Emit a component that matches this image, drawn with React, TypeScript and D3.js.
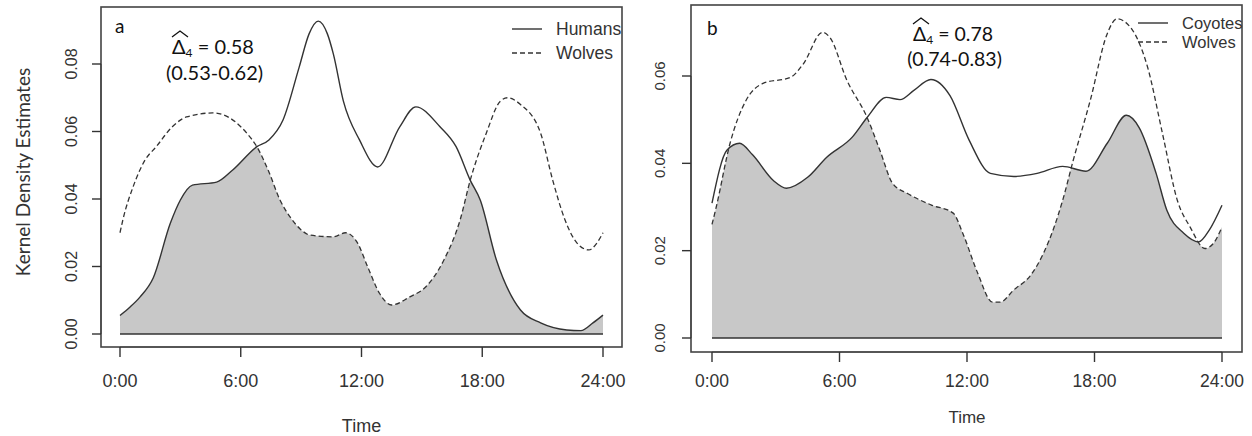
import React from "react";
import * as d3 from "d3";

// ---------- data ----------
const TIME_TICKS = [0, 6, 12, 18, 24];
const TIME_LABELS = ["0:00", "6:00", "12:00", "18:00", "24:00"];
const A_Y_TICKS = [0, 0.02, 0.04, 0.06, 0.08];
const B_Y_TICKS = [0, 0.02, 0.04, 0.06];

// Panel a – Humans (solid)
const A_HUMANS_H = [0, 0.5, 1, 1.65, 2.5, 3.0, 3.6, 4.8, 5.6, 6.8, 7.4, 8.1, 8.9, 9.4, 9.85, 10.3, 10.6, 11.1, 11.9, 12.8, 13.9, 14.7, 15.9, 16.7, 17.4, 17.9, 18.7, 19.9, 20.9, 22.2, 22.9, 23.5, 24];
const A_HUMANS_V = [0.0055, 0.008, 0.011, 0.0166, 0.0328, 0.0397, 0.0441, 0.045, 0.0486, 0.0555, 0.0575, 0.0634, 0.079, 0.089, 0.0927, 0.089, 0.083, 0.069, 0.0575, 0.0495, 0.0614, 0.0673, 0.0614, 0.0555, 0.0456, 0.0397, 0.022, 0.0071, 0.0033, 0.0012, 0.001, 0.0033, 0.0056];
// Panel a – Wolves (dashed)
const A_WOLVES_H = [0, 0.15, 0.65, 1.25, 1.8, 2.6, 3.3, 4.6, 5.1, 6.3, 6.8, 7.4, 7.95, 8.45, 8.94, 9.44, 10.6, 11.2, 11.8, 12.3, 12.9, 13.5, 14.4, 15.2, 16.1, 16.9, 17.4, 18.2, 18.9, 19.25, 19.9, 20.9, 21.5, 22.1, 22.7, 23.3, 23.7, 24];
const A_WOLVES_V = [0.030, 0.034, 0.0436, 0.0516, 0.0555, 0.0614, 0.0643, 0.0655, 0.065, 0.0595, 0.0555, 0.048, 0.0397, 0.0347, 0.0312, 0.0293, 0.0288, 0.030, 0.027, 0.020, 0.012, 0.0086, 0.011, 0.014, 0.022, 0.0338, 0.0455, 0.0595, 0.069, 0.070, 0.068, 0.0595, 0.0456, 0.034, 0.027, 0.0249, 0.027, 0.030];

// Panel b – Coyotes (solid)
const B_COYOTES_H = [0, 0.7, 1.3, 1.9, 2.9, 3.5, 4.5, 5.4, 6.6, 7.3, 8.2, 8.85, 9.5, 10.3, 11.2, 12.1, 13.1, 14.2, 15.3, 16.5, 17.6, 18.6, 19.5, 20.1, 20.9, 21.4, 22.2, 22.9, 23.4, 24];
const B_COYOTES_V = [0.0309, 0.043, 0.0446, 0.042, 0.036, 0.0343, 0.0368, 0.0414, 0.046, 0.0505, 0.0551, 0.0546, 0.0567, 0.0592, 0.0555, 0.0453, 0.0377, 0.037, 0.0377, 0.0393, 0.0382, 0.0446, 0.051, 0.0482, 0.0377, 0.0293, 0.024, 0.022, 0.0247, 0.0304];
// Panel b – Wolves (dashed)
const B_WOLVES_H = [0, 0.2, 0.85, 1.6, 2.4, 3.7, 4.3, 5.2, 5.55, 6.35, 7.3, 7.9, 8.5, 9.2, 10.3, 11.35, 11.8, 12.5, 13.2, 13.55, 14.2, 15.0, 15.6, 16.1, 16.5, 17.0, 17.8, 18.6, 19.05, 19.7, 20.5, 21.2, 21.9, 22.5, 23.2, 23.6, 24];
const B_WOLVES_V = [0.026, 0.030, 0.0446, 0.0544, 0.0583, 0.0597, 0.0628, 0.070, 0.0688, 0.059, 0.0505, 0.043, 0.0354, 0.0331, 0.0305, 0.0286, 0.024, 0.0149, 0.0082, 0.0082, 0.011, 0.0144, 0.0194, 0.0254, 0.0315, 0.0407, 0.0544, 0.0697, 0.0731, 0.0711, 0.062, 0.0468, 0.0315, 0.0254, 0.0205, 0.0217, 0.0254];

const A_LEGEND = ["Humans", "Wolves"];
const B_LEGEND = ["Coyotes", "Wolves"];
const A_STAT = ["0.58", "(0.53-0.62)"];
const B_STAT = ["0.78", "(0.74-0.83)"];

type Pt = [number, number];
const zip = (h: number[], v: number[]): Pt[] => h.map((x, i) => [x, v[i]]);

const AXIS_FONT = "'Liberation Sans', Arial, sans-serif";
const NOTE_FONT = "Lato, 'Open Sans', sans-serif";
const INK = "#333";

interface PanelProps {
  id: string;
  letter: string;
  box: { x0: number; x1: number; y0: number; y1: number };
  xRange: [number, number];
  yDomainMax: number;
  yRange: [number, number];
  yTicks: number[];
  solid: Pt[];
  dashed: Pt[];
  legend: string[];
  legendPos: { x: number; y: number; gap: number; size: number };
  stat: string[];
  statPos: { x: number; y: number; y2: number; cx2: number; size: number };
  letterPos: { x: number; y: number };
  tickFont: number;
  yTickFont: number;
  yLabelX: number;
  timeY: number;
  xTickY: number;
  timeFont: number;
}

function Panel(p: PanelProps) {
  const x = d3.scaleLinear().domain([0, 24]).range(p.xRange);
  const y = d3.scaleLinear().domain([0, p.yDomainMax]).range(p.yRange);
  const line = d3
    .line<Pt>()
    .x((d) => x(d[0]))
    .y((d) => y(d[1]))
    .curve(d3.curveMonotoneX);
  const area = d3
    .area<Pt>()
    .x((d) => x(d[0]))
    .y0(y(0))
    .y1((d) => y(d[1]))
    .curve(d3.curveMonotoneX);
  const clipId = `clip-${p.id}`;
  const { box } = p;
  const hatX = p.statPos.x;
  const hatY = p.statPos.y;
  return (
    <g>
      <defs>
        <clipPath id={clipId}>
          <path d={area(p.dashed) || ""} />
        </clipPath>
      </defs>
      {/* overlap area */}
      <path d={area(p.solid) || ""} fill="#c8c8c8" clipPath={`url(#${clipId})`} />
      {/* baseline */}
      <line x1={x(0)} x2={x(24)} y1={y(0)} y2={y(0)} stroke={INK} strokeWidth={1.5} />
      {/* curves */}
      <path d={line(p.solid) || ""} fill="none" stroke={INK} strokeWidth={1.4} />
      <path d={line(p.dashed) || ""} fill="none" stroke={INK} strokeWidth={1.3} strokeDasharray="5,3" />
      {/* box */}
      <rect x={box.x0} y={box.y0} width={box.x1 - box.x0} height={box.y1 - box.y0} fill="none" stroke="#444" strokeWidth={1.6} />
      {/* x axis */}
      <g>
        <line x1={x(0)} x2={x(24)} y1={box.y1} y2={box.y1} stroke="#444" strokeWidth={1.2} />
        {TIME_TICKS.map((t, i) => (
          <g key={t}>
            <line x1={x(t)} x2={x(t)} y1={box.y1} y2={box.y1 + 10} stroke={INK} strokeWidth={1.4} />
            <text x={x(t)} y={p.xTickY} textAnchor="middle" fontFamily={AXIS_FONT} fontSize={p.tickFont} fill={INK}>
              {TIME_LABELS[i]}
            </text>
          </g>
        ))}
        <text x={x(12)} y={p.timeY} textAnchor="middle" fontFamily={AXIS_FONT} fontSize={p.timeFont} fill={INK}>
          Time
        </text>
      </g>
      {/* y axis */}
      <g>
        <line x1={box.x0} x2={box.x0} y1={y(0)} y2={y(p.yTicks[p.yTicks.length - 1])} stroke="#444" strokeWidth={1.2} />
        {p.yTicks.map((t) => (
          <g key={t}>
            <line x1={box.x0} x2={box.x0 - 9} y1={y(t)} y2={y(t)} stroke={INK} strokeWidth={1.4} />
            <text
              transform={`translate(${p.yLabelX},${y(t)}) rotate(-90)`}
              textAnchor="middle"
              fontFamily={AXIS_FONT}
              fontSize={p.yTickFont}
              fill={INK}
            >
              {t.toFixed(2)}
            </text>
          </g>
        ))}
      </g>
      {/* legend */}
      <g fontFamily={AXIS_FONT} fontSize={p.legendPos.size} fill={INK}>
        <line x1={p.legendPos.x} x2={p.legendPos.x + 30} y1={p.legendPos.y} y2={p.legendPos.y} stroke={INK} strokeWidth={1.4} />
        <text x={p.legendPos.x + 44} y={p.legendPos.y + 6}>{p.legend[0]}</text>
        <line x1={p.legendPos.x} x2={p.legendPos.x + 30} y1={p.legendPos.y + p.legendPos.gap} y2={p.legendPos.y + p.legendPos.gap} stroke={INK} strokeWidth={1.3} strokeDasharray="5,3" />
        <text x={p.legendPos.x + 44} y={p.legendPos.y + p.legendPos.gap + 6}>{p.legend[1]}</text>
      </g>
      {/* panel letter */}
      <text x={p.letterPos.x} y={p.letterPos.y} fontFamily={NOTE_FONT} fontSize={19} fill="#111">
        {p.letter}
      </text>
      {/* overlap statistic */}
      <g fontFamily={NOTE_FONT} fill="#111">
        <path d={`M${hatX},${hatY - 17} L${hatX + 8},${hatY - 23} L${hatX + 16},${hatY - 17}`} fill="none" stroke="#111" strokeWidth={1.3} />
        <text x={hatX} y={hatY} fontSize={p.statPos.size}>
          Δ<tspan fontSize={12} dy={3}>4</tspan>
          <tspan dy={-3}> = {p.stat[0]}</tspan>
        </text>
        <text x={p.statPos.cx2} y={p.statPos.y2} textAnchor="middle" fontSize={p.statPos.size}>
          {p.stat[1]}
        </text>
      </g>
    </g>
  );
}

export default function App() {
  return (
    <svg width={1252} height={436} style={{ position: "absolute", left: 0, top: 0, background: "#fff" }}>
      <rect width={1252} height={436} fill="#fff" />
      <text
        transform="translate(30,172) rotate(-90)"
        textAnchor="middle"
        fontFamily={NOTE_FONT}
        fontSize={19}
        fill={INK}
      >
        Kernel Density Estimates
      </text>
      <Panel
        id="a"
        letter="a"
        box={{ x0: 101, x1: 622, y0: 7, y1: 347 }}
        xRange={[120, 603]}
        yDomainMax={0.08}
        yRange={[334, 64]}
        yTicks={A_Y_TICKS}
        solid={zip(A_HUMANS_H, A_HUMANS_V)}
        dashed={zip(A_WOLVES_H, A_WOLVES_V)}
        legend={A_LEGEND}
        legendPos={{ x: 512, y: 29, gap: 24, size: 17.5 }}
        stat={A_STAT}
        statPos={{ x: 172, y: 54, y2: 80, cx2: 214.5, size: 20 }}
        letterPos={{ x: 115, y: 33 }}
        tickFont={18}
        yTickFont={16}
        yLabelX={77}
        xTickY={387}
        timeY={432}
        timeFont={18}
      />
      <Panel
        id="b"
        letter="b"
        box={{ x0: 691, x1: 1242, y0: 5, y1: 352 }}
        xRange={[712, 1222]}
        yDomainMax={0.06}
        yRange={[338, 76]}
        yTicks={B_Y_TICKS}
        solid={zip(B_COYOTES_H, B_COYOTES_V)}
        dashed={zip(B_WOLVES_H, B_WOLVES_V)}
        legend={B_LEGEND}
        legendPos={{ x: 1138, y: 23, gap: 19, size: 16.5 }}
        stat={B_STAT}
        statPos={{ x: 913, y: 41, y2: 66, cx2: 954.5, size: 19.5 }}
        letterPos={{ x: 707, y: 35 }}
        tickFont={17.5}
        yTickFont={15}
        yLabelX={665}
        xTickY={387}
        timeY={423}
        timeFont={17}
      />
    </svg>
  );
}
